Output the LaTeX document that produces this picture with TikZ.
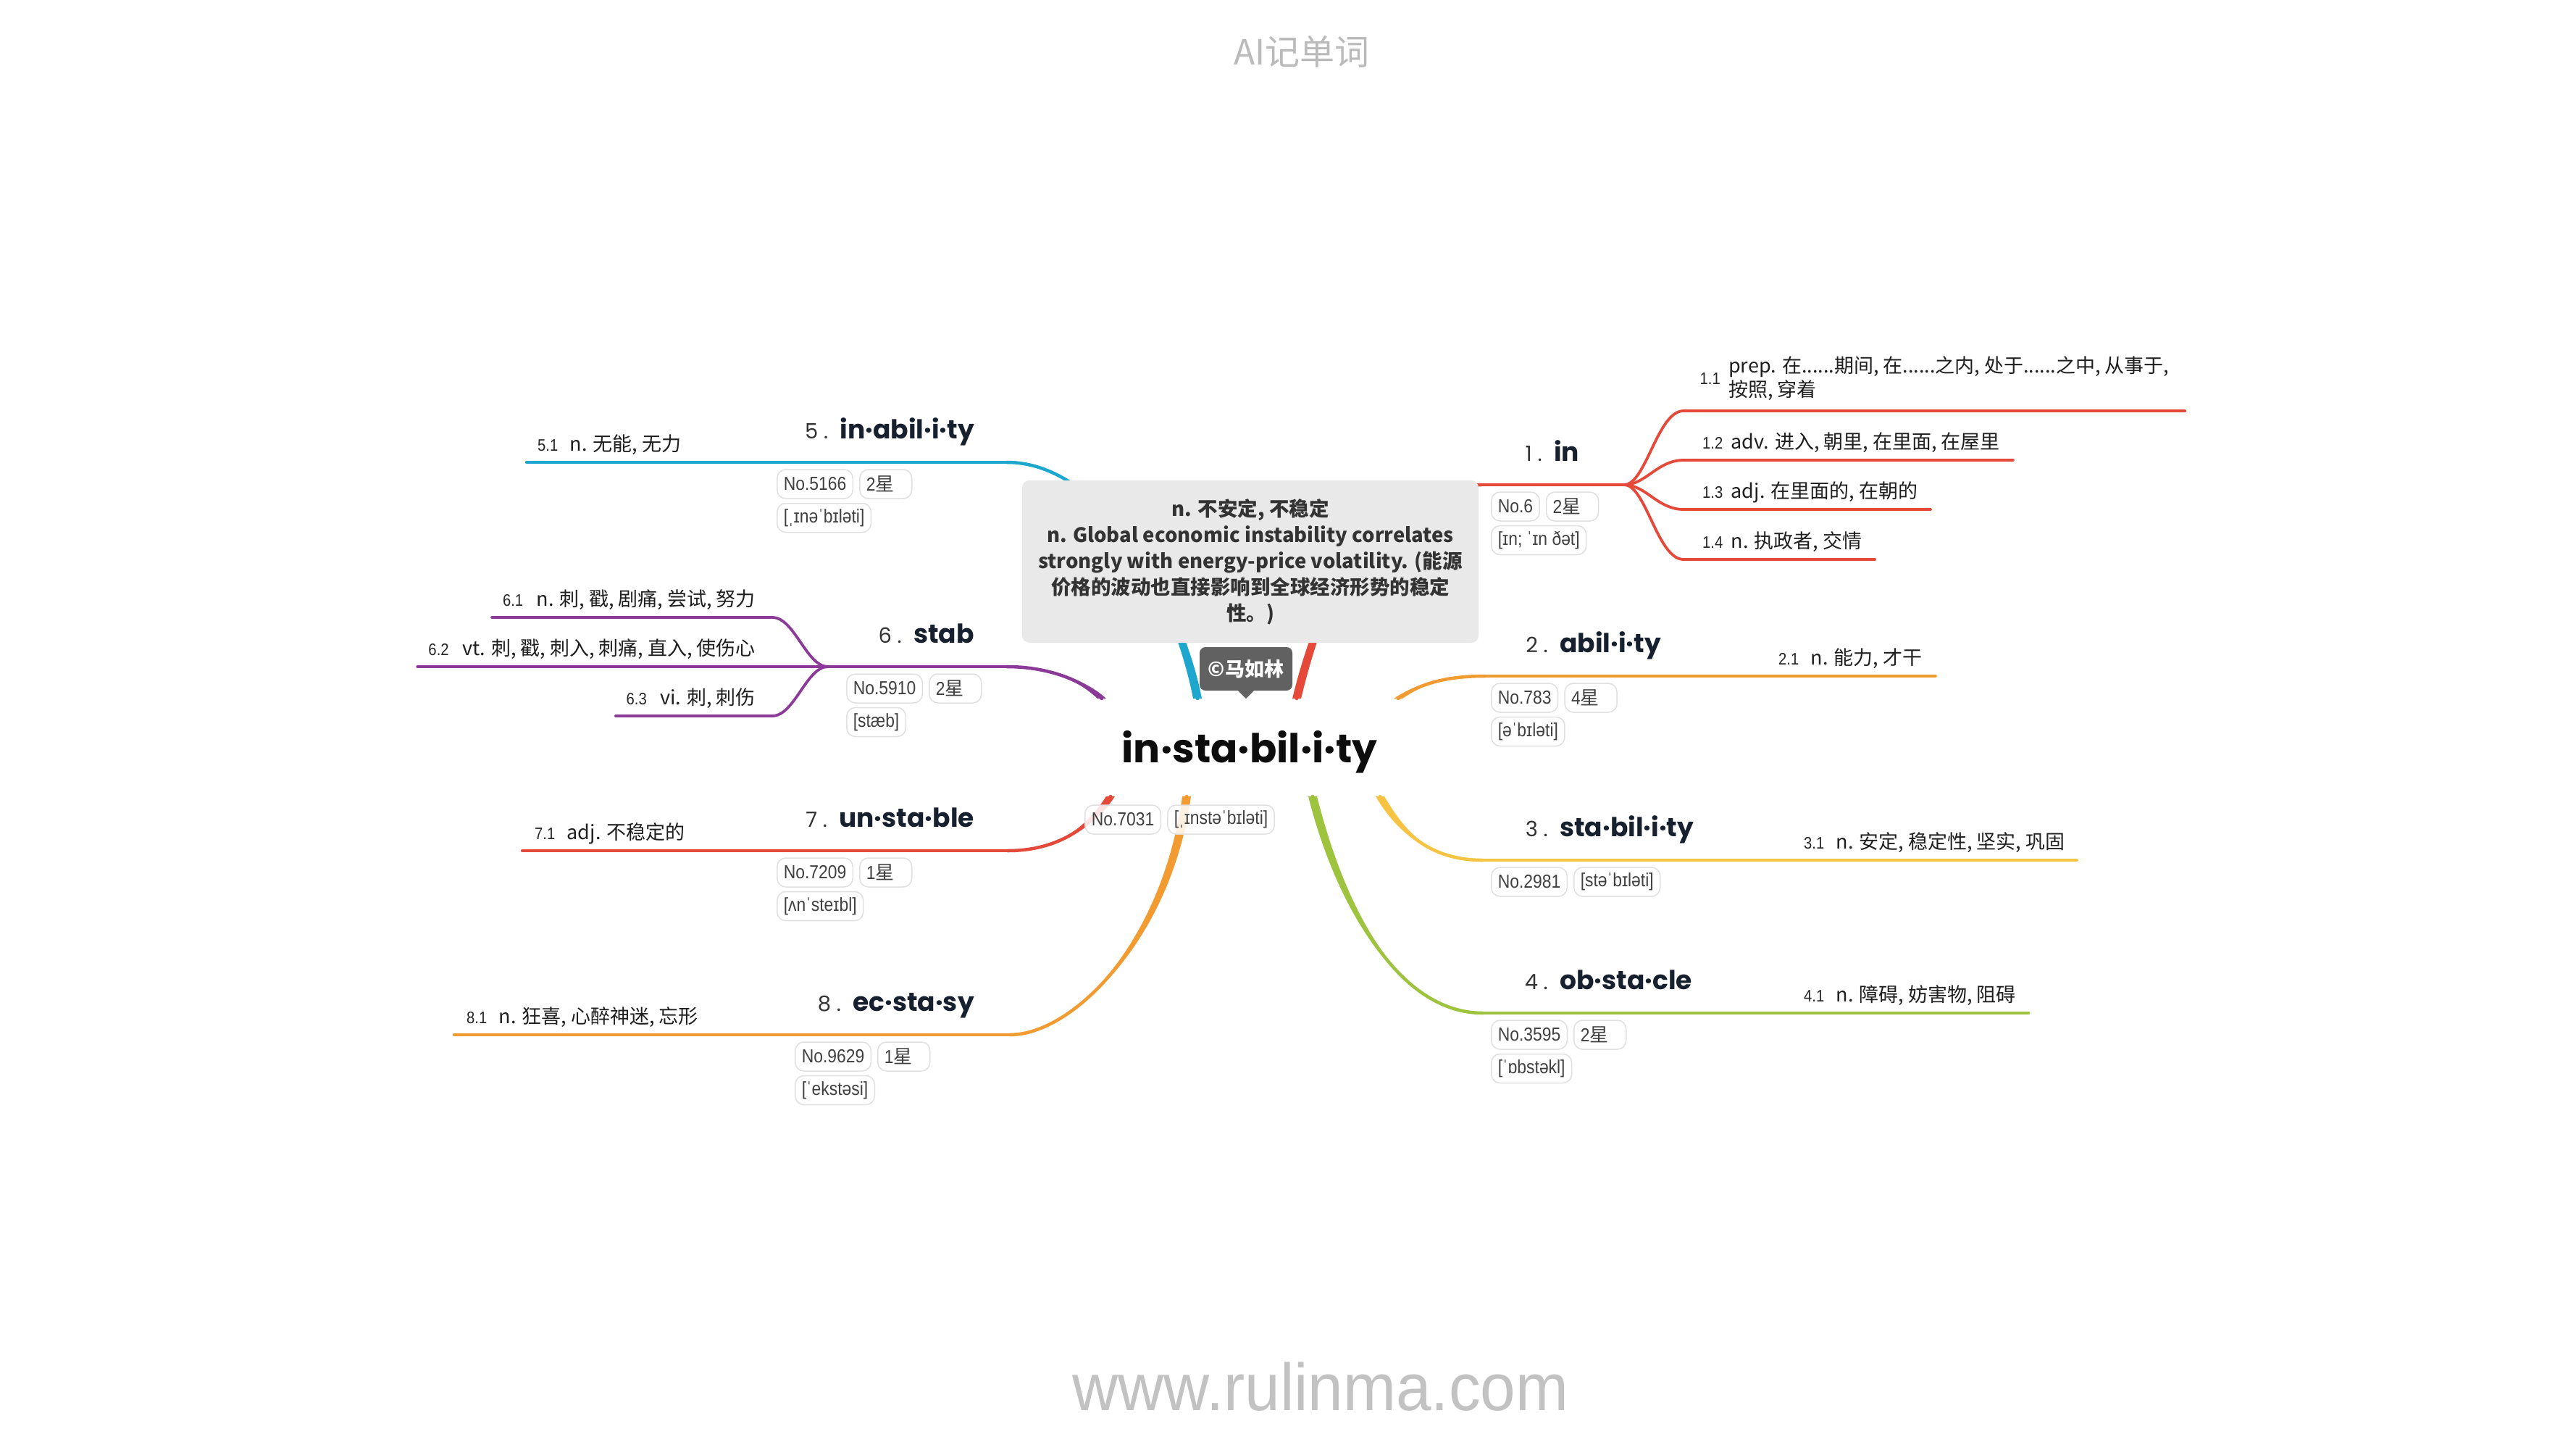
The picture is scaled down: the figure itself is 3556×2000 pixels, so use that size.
\documentclass[tikz,border=0pt]{standalone}
\usepackage{fontspec}
\setmainfont{Noto Sans CJK SC}
\newfontfamily\cjk{Noto Sans CJK SC}
\newfontfamily\hwfont{Poppins}
\newfontfamily\narrowfont{Liberation Sans}[FakeStretch=0.88]
\newfontfamily\sitefont{Liberation Sans}[FakeStretch=0.95]
\usetikzlibrary{positioning}

\pgfdeclarelayer{paper}
\pgfdeclarelayer{lines}
\pgfsetlayers{paper,lines,main}

\definecolor{cred}{HTML}{E5493A}
\definecolor{corange}{HTML}{F29B30}
\definecolor{cyellow}{HTML}{F6C342}
\definecolor{cgreen}{HTML}{9DC33F}
\definecolor{cblue}{HTML}{1DA7CF}
\definecolor{cpurple}{HTML}{8B3A98}
\definecolor{headink}{HTML}{17202E}
\definecolor{boxfill}{HTML}{E9E9E9}

\tikzset{
  headword/.style={font=\hwfont\bfseries\fontsize{36}{40}\selectfont, text=headink, inner sep=0pt},
  headnum/.style={font=\hwfont\fontsize{29}{32}\selectfont, text=black!80, inner sep=0pt},
  tagbox/.style={draw=black!12, line width=1.5pt, rounded corners=12pt, fill=white,
    fill opacity=0.85, text opacity=1, text=black!75,
    font=\narrowfont\fontsize{26}{28}\selectfont, inner xsep=9pt, inner ysep=0pt, minimum height=40pt},
  starbox/.style={tagbox, text width=54pt, align=left},
  defnum/.style={font=\narrowfont\fontsize{23}{26}\selectfont, text=black!85, inner sep=0pt},
  deftext/.style={font=\fontsize{27}{33}\selectfont, text=black!88, inner sep=0pt},
  limb/.style={line width=4.5pt, line cap=round},
  sublimb/.style={line width=3.8pt, line cap=round},
}

% tapered curve from the centre word out to a branch
\newcommand{\limbcurve}[5]{%
  \fill[#1] ([xshift=6pt]#2) .. controls ([xshift=6pt]#3) and (#4) .. (#5)
    .. controls (#4) and ([xshift=-6pt]#3) .. ([xshift=-6pt]#2) -- cycle;
  \draw[limb, #1] (#2) .. controls (#3) and (#4) .. (#5);}

\begin{document}
\begin{tikzpicture}[x=1pt, y=-1pt]
  \useasboundingbox (0,0) rectangle (3556,2000);
  \begin{pgfonlayer}{paper}
    \fill[white] (0,0) rectangle (3556,2000);
  \end{pgfonlayer}

  % --- Title and footer ---
  \node[font=\fontsize{48}{52}\selectfont, text=black!27] (title) at (1797,71) {AI记单词};
  \node[font=\sitefont\fontsize{92}{96}\selectfont, text=black!24] (site) at (1823,1914) {www.rulinma.com};

  % --- Central word ---
  \node[font=\hwfont\bfseries\fontsize{55}{60}\selectfont, text=black!95, inner sep=0pt, anchor=base]
    (center) at (1725,1052) {in·sta·bil·i·ty};
  \node[tagbox, anchor=west] (no0) at (1497,1131) {No.7031};
  \node[tagbox, right=8pt of no0] (ph0) {[ˌɪnstəˈbɪləti]};

  % --- Gloss box and signature ---
  \node[fill=boxfill, rounded corners=10pt, minimum width=630pt, minimum height=224pt,
    align=center, text=black!80, font=\bfseries\fontsize{27.5}{36}\selectfont]
    (gloss) at (1726,775)
    {n. 不安定, 不稳定\\
     n. Global economic instability correlates\\
     strongly with energy-price volatility. (能源\\
     价格的波动也直接影响到全球经济形势的稳定\\
     性。)};
  \node[fill=black!62, rounded corners=8pt, minimum width=128pt, minimum height=60pt,
    text=white, font=\bfseries\fontsize{27}{30}\selectfont] (sign) at (1720,923) {©马如林};
  \fill[black!62] ([xshift=-11pt]sign.south) -- ([xshift=11pt]sign.south)
    -- ([yshift=-11pt]sign.south) -- cycle;

  % --- Branch 1: in ---
  \node[headword, anchor=base west] (w1) at (2145,636) {in};
  \node[headnum, base left=16pt of w1] (num1) {1 .};
  \node[tagbox, anchor=west] (no1) at (2058,699) {No.6};
  \node[starbox, right=8pt of no1] (lv1) {2{\cjk 星}};
  \node[tagbox, below=5pt of no1.south west, anchor=north west] (ph1) {[ɪn; ˈɪn ðət]};
  \node[deftext, align=left, anchor=south west] (d11) at (2386,553)
    {prep. 在......期间, 在......之内, 处于......之中, 从事于,\\按照, 穿着};
  \node[defnum, anchor=east] (n11) at ([xshift=-11pt]d11.west) {1.1};
  \node[defnum, anchor=base west] (n12) at (2350,619) {1.2};
  \node[deftext, base right=11pt of n12] (d12) {adv. 进入, 朝里, 在里面, 在屋里};
  \node[defnum, anchor=base west] (n13) at (2350,687) {1.3};
  \node[deftext, base right=11pt of n13] (d13) {adj. 在里面的, 在朝的};
  \node[defnum, anchor=base west] (n14) at (2350,756) {1.4};
  \node[deftext, base right=11pt of n14] (d14) {n. 执政者, 交情};

  % --- Branch 2: abil.i.ty ---
  \node[headword, anchor=base west] (w2) at (2153,900) {abil·i·ty};
  \node[headnum, base left=16pt of w2] (num2) {2 .};
  \node[tagbox, anchor=west] (no2) at (2058,963) {No.783};
  \node[starbox, right=8pt of no2] (lv2) {4{\cjk 星}};
  \node[tagbox, below=5pt of no2.south west, anchor=north west] (ph2) {[əˈbɪləti]};
  \node[defnum, anchor=base west] (n21) at (2455,917) {2.1};
  \node[deftext, base right=16pt of n21] (d21) {n. 能力, 才干};

  % --- Branch 3: sta.bil.i.ty ---
  \node[headword, anchor=base west] (w3) at (2153,1154) {sta·bil·i·ty};
  \node[headnum, base left=16pt of w3] (num3) {3 .};
  \node[tagbox, anchor=west] (no3) at (2058,1217) {No.2981};
  \node[tagbox, right=8pt of no3] (ph3) {[stəˈbɪləti]};
  \node[defnum, anchor=base west] (n31) at (2490,1171) {3.1};
  \node[deftext, base right=16pt of n31] (d31) {n. 安定, 稳定性, 坚实, 巩固};

  % --- Branch 4: ob.sta.cle ---
  \node[headword, anchor=base west] (w4) at (2153,1365) {ob·sta·cle};
  \node[headnum, base left=16pt of w4] (num4) {4 .};
  \node[tagbox, anchor=west] (no4) at (2058,1428) {No.3595};
  \node[starbox, right=8pt of no4] (lv4) {2{\cjk 星}};
  \node[tagbox, below=5pt of no4.south west, anchor=north west] (ph4) {[ˈɒbstəkl]};
  \node[defnum, anchor=base west] (n41) at (2490,1382) {4.1};
  \node[deftext, base right=16pt of n41] (d41) {n. 障碍, 妨害物, 阻碍};

  % --- Branch 5: in.abil.i.ty ---
  \node[headword, anchor=base east] (w5) at (1345,605) {in·abil·i·ty};
  \node[headnum, base left=16pt of w5] (num5) {5 .};
  \node[tagbox, anchor=west] (no5) at (1072,668) {No.5166};
  \node[starbox, right=8pt of no5] (lv5) {2{\cjk 星}};
  \node[tagbox, below=5pt of no5.south west, anchor=north west] (ph5) {[ˌɪnəˈbɪləti]};
  \node[defnum, anchor=base west] (n51) at (742,622) {5.1};
  \node[deftext, base right=16pt of n51] (d51) {n. 无能, 无力};

  % --- Branch 6: stab ---
  \node[headword, anchor=base east] (w6) at (1345,887) {stab};
  \node[headnum, base left=16pt of w6] (num6) {6 .};
  \node[tagbox, anchor=west] (no6) at (1168,950) {No.5910};
  \node[starbox, right=8pt of no6] (lv6) {2{\cjk 星}};
  \node[tagbox, below=5pt of no6.south west, anchor=north west] (ph6) {[stæb]};
  \node[deftext, anchor=base east] (d61) at (1043,836) {n. 刺, 戳, 剧痛, 尝试, 努力};
  \node[defnum, base left=18pt of d61] (n61) {6.1};
  \node[deftext, anchor=base east] (d62) at (1043,904) {vt. 刺, 戳, 刺入, 刺痛, 直入, 使伤心};
  \node[defnum, base left=18pt of d62] (n62) {6.2};
  \node[deftext, anchor=base east] (d63) at (1043,972) {vi. 刺, 刺伤};
  \node[defnum, base left=18pt of d63] (n63) {6.3};

  % --- Branch 7: un.sta.ble ---
  \node[headword, anchor=base east] (w7) at (1345,1141) {un·sta·ble};
  \node[headnum, base left=16pt of w7] (num7) {7 .};
  \node[tagbox, anchor=west] (no7) at (1072,1204) {No.7209};
  \node[starbox, right=8pt of no7] (lv7) {1{\cjk 星}};
  \node[tagbox, below=5pt of no7.south west, anchor=north west] (ph7) {[ʌnˈsteɪbl]};
  \node[defnum, anchor=base west] (n71) at (738,1158) {7.1};
  \node[deftext, base right=16pt of n71] (d71) {adj. 不稳定的};

  % --- Branch 8: ec.sta.sy ---
  \node[headword, anchor=base east] (w8) at (1345,1395) {ec·sta·sy};
  \node[headnum, base left=16pt of w8] (num8) {8 .};
  \node[tagbox, anchor=west] (no8) at (1097,1458) {No.9629};
  \node[starbox, right=8pt of no8] (lv8) {1{\cjk 星}};
  \node[tagbox, below=5pt of no8.south west, anchor=north west] (ph8) {[ˈekstəsi]};
  \node[defnum, anchor=base west] (n81) at (644,1412) {8.1};
  \node[deftext, base right=16pt of n81] (d81) {n. 狂喜, 心醉神迷, 忘形};

  % --- Branch ends (centre side, bends, hubs) ---
  \coordinate (s1) at (1790,964);  \coordinate (b1) at (2045,669);  \coordinate (h1) at (2242,669);
  \coordinate (s2) at (1930,964);  \coordinate (b2) at (2050,933);
  \coordinate (s3) at (1905,1099); \coordinate (b3) at (2047,1187);
  \coordinate (s4) at (1812,1099); \coordinate (b4) at (2047,1398);
  \coordinate (s5) at (1653,964);  \coordinate (b5) at (1390,638);
  \coordinate (s6) at (1521,964);  \coordinate (b6) at (1390,920);  \coordinate (h6) at (1143,920);
  \coordinate (s7) at (1533,1099); \coordinate (b7) at (1391,1174);
  \coordinate (s8) at (1638,1099); \coordinate (b8) at (1394,1428);
  \coordinate (e11) at (2324,567); \coordinate (e12) at (2324,635);
  \coordinate (e13) at (2324,703); \coordinate (e14) at (2324,772);
  \coordinate (e61) at (1066,852); \coordinate (e63) at (1066,988);

  \begin{pgfonlayer}{lines}
    % --- Branch 1 (red, four senses) ---
    \limbcurve{cred}{s1}{1830,800}{1900,669}{b1}
    \draw[limb, cred] (b1) -- (h1);
    \draw[sublimb, cred] (h1) .. controls (2272,669) and (2288,567) .. (e11) -- (e11 -| d11.east) -- ++(22,0);
    \draw[sublimb, cred] (h1) .. controls (2272,669) and (2288,635) .. (e12) -- (e12 -| d12.east) -- ++(18,0);
    \draw[sublimb, cred] (h1) .. controls (2272,669) and (2288,703) .. (e13) -- (e13 -| d13.east) -- ++(18,0);
    \draw[sublimb, cred] (h1) .. controls (2272,669) and (2288,772) .. (e14) -- (e14 -| d14.east) -- ++(18,0);

    % --- Branches 2 to 4 (right, one sense each) ---
    \limbcurve{corange}{s2}{1962,942}{2000,933}{b2}
    \draw[limb, corange] (b2) -- (b2 -| d21.east) -- ++(18,0);
    \limbcurve{cyellow}{s3}{1935,1150}{1975,1187}{b3}
    \draw[limb, cyellow] (b3) -- (b3 -| d31.east) -- ++(16,0);
    \limbcurve{cgreen}{s4}{1850,1250}{1930,1398}{b4}
    \draw[limb, cgreen] (b4) -- (b4 -| d41.east) -- ++(17,0);

    % --- Branch 5 (blue, behind the gloss box) ---
    \limbcurve{cblue}{s5}{1625,820}{1520,638}{b5}
    \draw[limb, cblue] (b5) -- (b5 -| n51.west) -- ++(-15,0);

    % --- Branch 6 (purple, three senses) ---
    \limbcurve{cpurple}{s6}{1490,935}{1440,920}{b6}
    \draw[limb, cpurple] (b6) -- (h6);
    \draw[sublimb, cpurple] (h6) .. controls (1113,920) and (1097,852) .. (e61) -- (e61 -| n61.west) -- ++(-15,0);
    \draw[sublimb, cpurple] (h6) -- (h6 -| n62.west) -- ++(-15,0);
    \draw[sublimb, cpurple] (h6) .. controls (1113,920) and (1097,988) .. (e63) -- (e63 -| n63.west) -- ++(-15,0);

    % --- Branches 7 and 8 (left, one sense each) ---
    \limbcurve{cred}{s7}{1500,1150}{1450,1174}{b7}
    \draw[limb, cred] (b7) -- (b7 -| n71.west) -- ++(-17,0);
    \limbcurve{corange}{s8}{1610,1300}{1480,1428}{b8}
    \draw[limb, corange] (b8) -- (b8 -| n81.west) -- ++(-17,0);
  \end{pgfonlayer}

\end{tikzpicture}
\end{document}
